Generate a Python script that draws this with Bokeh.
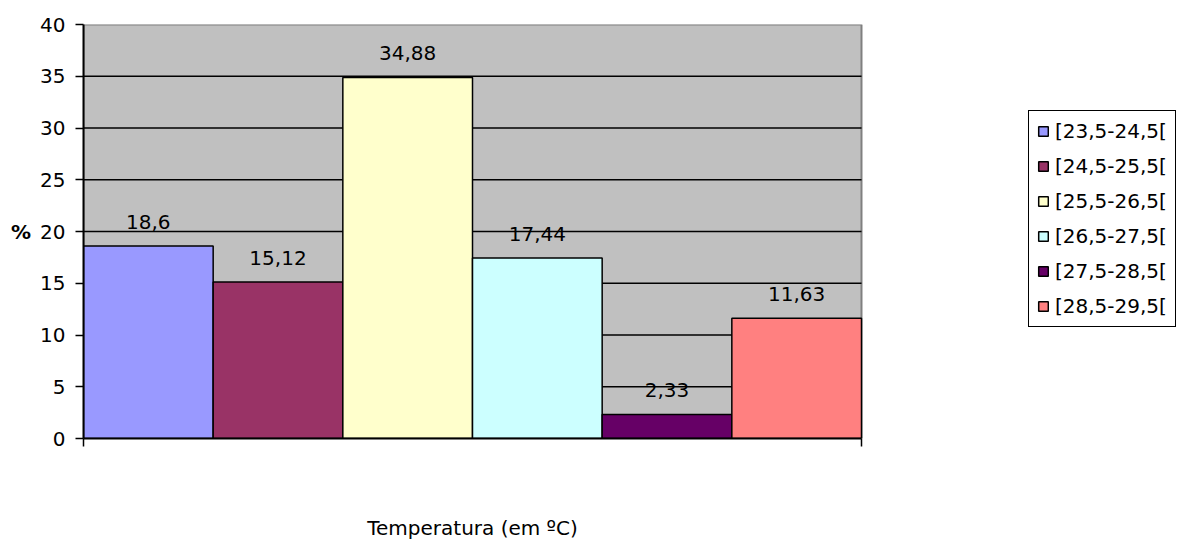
from bokeh.plotting import figure
from bokeh.models import Range1d, FixedTicker, Legend, LegendItem, ColumnDataSource, BoxAnnotation
from bokeh.embed import file_html
from bokeh.resources import INLINE

categories = ["[23,5-24,5[", "[24,5-25,5[", "[25,5-26,5[", "[26,5-27,5[", "[27,5-28,5[", "[28,5-29,5["]
values = [18.6, 15.12, 34.88, 17.44, 2.33, 11.63]
colors = ["#9999FF", "#993366", "#FFFFCC", "#CCFFFF", "#660066", "#FF8080"]
y_ticks = [0, 5, 10, 15, 20, 25, 30, 35, 40]
x_title = "Temperatura (em ºC)"
y_title = "%"

FONT = "DejaVu Sans"
FS = "20px"

W, H = 1178, 542
LEFT, TOP, BOTTOM = 83, 24, 104
PLOT_W = 778            # pixel width of the grey plot area
FRAME_W = W - LEFT
n = len(values)
x_end = n * FRAME_W / PLOT_W

p = figure(width=W, height=H, output_backend="svg", toolbar_location=None,
           x_range=Range1d(0, x_end), y_range=Range1d(0, 40),
           min_border_left=LEFT, min_border_right=0, min_border_top=TOP, min_border_bottom=BOTTOM)

p.background_fill_color = "white"
p.border_fill_color = "white"
p.outline_line_color = None
p.xgrid.visible = False
p.ygrid.visible = False

# grey plot area
p.add_layout(BoxAnnotation(left=0, right=n, bottom=0, top=40, fill_color="#C0C0C0", fill_alpha=1.0,
                           line_color="#808080", line_width=2, line_alpha=1.0, level="underlay"))

# grid lines within the plot area
gy = y_ticks[1:-1]
p.segment(x0=[0] * len(gy), x1=[n] * len(gy), y0=gy, y1=gy, line_color="black", line_width=1.5)

# y axis
ya = p.yaxis[0]
ya.ticker = FixedTicker(ticks=y_ticks)
ya.minor_tick_line_color = None
ya.major_tick_in = 0
ya.major_tick_out = 8
ya.major_tick_line_width = 1.5
ya.axis_line_width = 2
ya.major_label_standoff = 10
ya.major_label_text_font = FONT
ya.major_label_text_font_size = FS
ya.major_label_text_color = "black"
ya.axis_label = y_title
ya.axis_label_orientation = "horizontal"
ya.axis_label_text_font = FONT
ya.axis_label_text_font_size = FS
ya.axis_label_text_font_style = "bold"
ya.axis_label_text_color = "black"
ya.axis_label_standoff = 6

# x axis: tick marks only at the two ends (minor ticks), the title as the
# single (mark-less) major tick label in the middle of the bars
mid = n // 2
xa = p.xaxis[0]
xa.bounds = (0, n)
xa.ticker = FixedTicker(ticks=[mid], minor_ticks=[0, n])
xa.major_label_overrides = {mid: x_title}
xa.major_tick_line_color = None
xa.major_tick_in = 0
xa.major_tick_out = 0
xa.minor_tick_line_color = "black"
xa.minor_tick_line_width = 1.5
xa.minor_tick_in = 0
xa.minor_tick_out = 8
xa.axis_line_width = 2
xa.major_label_text_font = FONT
xa.major_label_text_font_size = FS
xa.major_label_text_color = "black"
xa.major_label_standoff = 69

xs = [i + 0.5 for i in range(n)]
labels = [str(v).replace(".", ",") for v in values]

items = []
for i in range(n):
    r = p.vbar(x=[xs[i]], top=[values[i]], bottom=0, width=1.0,
               fill_color=colors[i], line_color="black", line_width=1.5)
    items.append(LegendItem(label=categories[i], renderers=[r]))

src = ColumnDataSource(dict(x=xs, y=values, t=labels))
p.text(x="x", y="y", text="t", source=src, text_align="center", text_baseline="middle",
       y_offset=-24, text_font={"value": FONT}, text_font_size={"value": FS}, text_color="black")

legend = Legend(items=items, location=(1028 - LEFT, 111), margin=0, padding=8, spacing=11,
                glyph_height=12, glyph_width=12, label_standoff=6,
                label_text_font=FONT, label_text_font_size=FS, label_text_color="black",
                border_line_color="black", border_line_width=1.5, border_line_alpha=1.0,
                background_fill_color="white", background_fill_alpha=1.0)
p.add_layout(legend, "center")

open("out.html", "w").write(file_html(p, INLINE))
